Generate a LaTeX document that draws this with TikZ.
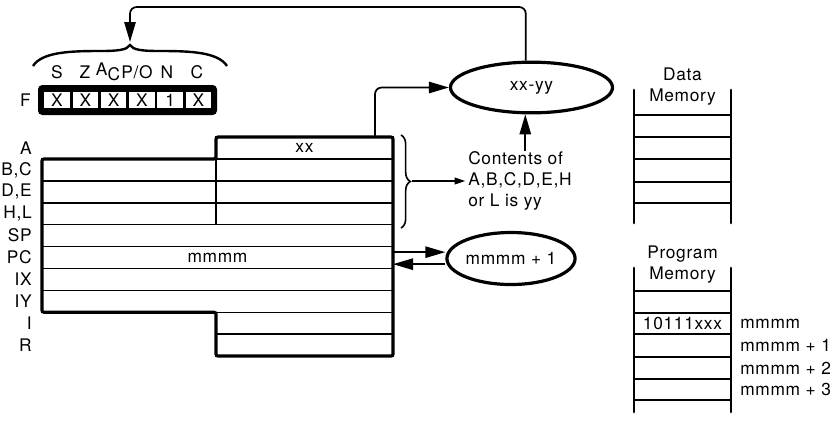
\documentclass[tikz,border=0pt]{standalone}
\usepackage{fontspec}
\setmainfont{TeX Gyre Heros}[LetterSpace=4]
\usepackage{tikz}
\usetikzlibrary{shapes, arrows.meta, positioning, calc, decorations.pathreplacing}

\begin{document}
\begin{tikzpicture}[
  x=0.75pt, y=-0.75pt,
  txt/.style={font=\fontsize{13}{15.75}\selectfont, inner sep=0pt},
  reglab/.style={txt, anchor=east},
  fullrow/.style={draw, line width=1.1pt, minimum width=263.25pt, minimum height=16.4pt, txt, outer sep=0pt},
  halfrow/.style={fullrow, minimum width=132.75pt},
  fcell/.style={draw, line width=2pt, minimum width=21.2pt, minimum height=14.5pt, txt},
  oval/.style={draw, ellipse, line width=2.4pt, txt},
  arr/.style={-{Triangle[length=15pt, width=8.5pt]}, line width=1.3pt},
  sarr/.style={-{Triangle[length=8pt, width=5pt]}, line width=1.3pt},
  memline/.style={line width=1.4pt},
  memside/.style={line width=2pt, line cap=round}
]
  \useasboundingbox (0,0) rectangle (833,422);

  \node[txt, anchor=east] (lF) at (31,100) {F};
  \node[draw, line width=3pt, rounded corners=2pt, minimum width=131.25pt, minimum height=19.5pt] (fbox) at (127.5,100) {};
  \node[fcell] (fS) at (57,100) {X};
  \node[fcell] (fZ) at (85.3,100) {X};
  \node[fcell] (fH) at (113.6,100) {X};
  \node[fcell] (fPV) at (141.9,100) {X};
  \node[fcell] (fN) at (170.2,100) {1};
  \node[fcell] (fC) at (198.5,100) {X};
  \node[txt] (tS) at (57,72) {S};
  \node[txt] (tZ) at (85,72) {Z};
  \node[txt] (tH) at (108,72) {A\raisebox{-4pt}{C}};
  \node[txt] (tPV) at (137,72) {P/O};
  \node[txt] (tN) at (167,72) {N};
  \node[txt] (tC) at (197,72) {C};
  \draw[line width=1.8pt] (33,66) .. controls (42,52) and (70,51) .. (100,51)
    .. controls (118,51) and (127,50) .. (130,45)
    .. controls (133,50) and (142,51) .. (160,51)
    .. controls (190,51) and (218,52) .. (227,66);

  \node[halfrow] (rA) at (304.5,148) {xx};
  \node[fullrow] (rBC) at (217.5,169.9) {};
  \node[fullrow] (rDE) at (217.5,191.8) {};
  \node[fullrow] (rHL) at (217.5,213.7) {};
  \node[fullrow] (rSP) at (217.5,235.6) {};
  \node[fullrow] (rPC) at (217.5,257.5) {mmmm};
  \node[fullrow] (rIX) at (217.5,279.4) {};
  \node[fullrow] (rIY) at (217.5,301.3) {};
  \node[halfrow] (rI) at (304.5,323.2) {};
  \node[halfrow] (rR) at (304.5,345.1) {};
  \draw[line width=1.1pt] (rA.south west) -- (rHL.south -| rA.west);
  \draw[line width=2.4pt, rounded corners=1.5pt] (rA.north west) -- (rA.north east) -- (rR.south east)
    -- (rR.south west) -- (rI.north west) -- (rIY.south west) -- (rBC.north west) -- (rA.south west) -- cycle;
  \foreach \t [count=\i from 0] in {A,{B,C},{D,E},{H,L},SP,PC,IX,IY,I,R}
    \node[reglab] (l\i) at (32,148+21.9*\i) {\t};

  \node[oval, minimum width=121.5pt, minimum height=38pt] (eSub) at (531.5,87.5) {xx-yy};
  \node[oval, minimum width=76.5pt, minimum height=39pt] (eInc) at (511,258.5) {mmmm + 1};
  \node[txt, anchor=west, align=left] (cont) at (468,181) {Contents of\\A,B,C,D,E,H\\or L is yy};

  \coordinate (ftop) at (130,7);
  \coordinate (ftip) at (130,42);
  \coordinate (rbtip) at (412,181);
  \draw[arr, rounded corners=5pt] (eSub.102) |- (ftop) -- (ftip);
  \draw[arr, rounded corners=5pt] ([xshift=-13.5pt]rA.north east) |- (eSub.west);
  \draw[arr] (cont.north -| eSub.257) -- (eSub.257);
  \draw[decorate, decoration={brace, amplitude=7pt}, line width=1.2pt] (401,135) -- (401,228);
  \draw[sarr] (rbtip) -- ([xshift=-2pt]cont.west |- rbtip);
  \draw[arr] ([yshift=4pt]rPC.east) -- ([yshift=4pt]rPC.east -| eInc.west);
  \draw[arr] ([yshift=-5pt]rPC.east -| eInc.west) -- ([yshift=-5pt]rPC.east);

  \node[txt, align=center] (dmem) at (682.5,86.5) {Data\\Memory};
  \draw[memside] (634,90) -- (634,223) (731,90) -- (731,223);
  \foreach \y in {115,137,159,182,203}
    \draw[memline] (634,\y) -- (731,\y);

  \node[txt, align=center] (pmem) at (682.5,265) {Program\\Memory};
  \draw[memside] (634,268) -- (634,412) (731,268) -- (731,412);
  \foreach \y in {291,313,334,357,379,400}
    \draw[memline] (634,\y) -- (731,\y);
  \node[txt] (op) at (682.5,323.5) {10111xxx};
  \node[txt, anchor=west] (a0) at (740,323.5) {mmmm};
  \node[txt, anchor=west] (a1) at (740,345.5) {mmmm + 1};
  \node[txt, anchor=west] (a2) at (740,368) {mmmm + 2};
  \node[txt, anchor=west] (a3) at (740,389.5) {mmmm + 3};
\end{tikzpicture}
\end{document}
